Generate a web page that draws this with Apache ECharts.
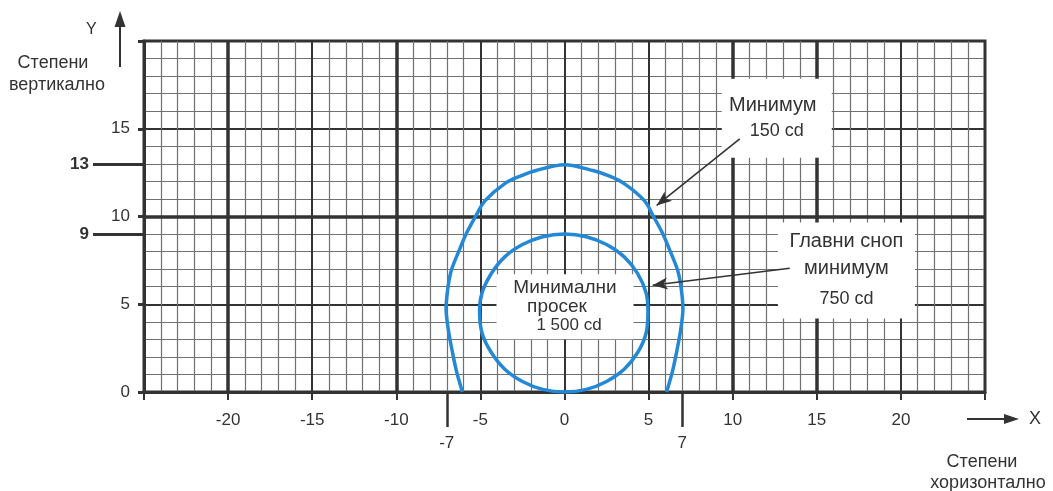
<!DOCTYPE html>
<html><head><meta charset="utf-8">
<script src="https://cdn.jsdelivr.net/npm/echarts@6/dist/echarts.min.js"></script>
<style>html,body{margin:0;padding:0;background:#fff}#c{width:1053px;height:491px}</style>
</head><body><div id="c"></div>
<script>
// ---- data ----
const xLabels = [-20, -15, -10, -5, 0, 5, 10, 15, 20];
const yLabels = [0, 5, 10, 15];
const xExtraLabels = [-7, 7];
const yExtraLabels = [13, 9];

// outer contour "Минимум 150 cd" (open curve, ends on y = 0)
const outerX = [-6.07, -6.4, -6.65, -6.9, -7.04, -6.95, -6.74, -6.25, -5.8, -5.26, -4.72, -3.57, -2.55, -1.69, 0, 1.69, 2.6, 3.57, 4.75, 5.26, 5.8, 6.25, 6.74, 6.95, 7.04, 6.9, 6.65, 6.4, 6.07];
const outerY = [0, 1.1, 2.2, 3.5, 4.7, 5.8, 6.9, 8.1, 9.1, 10.05, 10.9, 11.86, 12.33, 12.62, 12.95, 12.62, 12.33, 11.86, 10.9, 10.05, 9.1, 8.1, 6.9, 5.8, 4.7, 3.5, 2.2, 1.1, 0];

// inner contour "Минимални просек 1 500 cd" (closed curve)
const innerX = [0, 1.3, 2.5, 3.55, 4.35, 4.85, 4.96, 4.85, 4.35, 3.55, 2.5, 1.3, 0, -1.3, -2.5, -3.55, -4.35, -4.9, -5.05, -4.9, -4.35, -3.55, -2.5, -1.3, 0];
const innerY = [9.0, 8.85, 8.4, 7.7, 6.75, 5.65, 4.6, 3.35, 2.25, 1.3, 0.6, 0.15, 0, 0.15, 0.6, 1.3, 2.25, 3.35, 4.6, 5.65, 6.75, 7.7, 8.4, 8.85, 9.0];

// heavy grid lines
const heavyX = [-20, -10, 10, 15];
const heavyY = [10];

// annotation boxes: centre in data coords
const noteText = [['Минимум', '150 cd'], ['Главни сноп', 'минимум', '750 cd'], ['Минимални', 'просек', '1 500 cd']];
const noteX = [12.62, 16.76, 0.03];
const noteY = [15.6, 6.93, 4.86];
// arrows: from -> to
const arrowFromX = [10.42, 13.39];
const arrowFromY = [14.43, 7.05];
const arrowToX = [5.48, 5.24];
const arrowToY = [10.63, 6.08];

// ---- chart ----
const FONT = 'Liberation Sans, Arial, sans-serif';
const DARK = '#333';
const BLUE = '#2389d6';
const chart = echarts.init(document.getElementById('c'), null, {renderer: 'canvas'});

// smooth curve through the data points (Catmull-Rom), positioned by the axes via api.coord
function curveSeries(name, xs, ys, closed) {
  return {
    name: name, type: 'custom', coordinateSystem: 'cartesian2d', z: 5, silent: true,
    data: xs.map((x, i) => [x, ys[i]]),
    encode: {x: 0, y: 1},
    renderItem: function (params, api) {
      if (params.dataIndex !== 0) return;
      let pts = xs.map((x, i) => api.coord([x, ys[i]]));
      if (closed) pts = pts.slice(0, pts.length - 1);
      const n = pts.length;
      const get = (i) => {
        if (closed) return pts[(i + n) % n];
        return pts[Math.max(0, Math.min(n - 1, i))];
      };
      let d = 'M' + pts[0][0] + ' ' + pts[0][1];
      const segs = closed ? n : n - 1;
      for (let i = 0; i < segs; i++) {
        const p0 = get(i - 1), p1 = get(i), p2 = get(i + 1), p3 = get(i + 2);
        const c1x = p1[0] + (p2[0] - p0[0]) / 6, c1y = p1[1] + (p2[1] - p0[1]) / 6;
        const c2x = p2[0] - (p3[0] - p1[0]) / 6, c2y = p2[1] - (p3[1] - p1[1]) / 6;
        d += ' C' + c1x + ' ' + c1y + ' ' + c2x + ' ' + c2y + ' ' + p2[0] + ' ' + p2[1];
      }
      if (closed) d += ' Z';
      return {type: 'path', shape: {pathData: d}, style: {stroke: BLUE, fill: 'none', lineWidth: 3.5}};
    }
  };
}

const boxSizes = [[110, 79], [137, 96], [137, 65]];
const noteMarks = noteText.map((lines, i) => {
  let fmt, rich;
  if (i === 0) {
    fmt = '{a|' + lines[0] + '}\n{b|' + lines[1] + '}';
    rich = {a: {fontSize: 20, lineHeight: 26, color: DARK, fontFamily: FONT, padding: [0, 8, 0, 0]},
            b: {fontSize: 18, lineHeight: 26, color: DARK, fontFamily: FONT}};
  } else if (i === 1) {
    fmt = '{a|' + lines[0] + '}\n{a|' + lines[1] + '}\n{b|' + lines[2] + '}';
    rich = {a: {fontSize: 20, lineHeight: 27, color: DARK, fontFamily: FONT},
            b: {fontSize: 18, lineHeight: 31, color: DARK, fontFamily: FONT, padding: [4, 0, 0, 0]}};
  } else {
    fmt = '{a|' + lines[0] + '}\n{c|' + lines[1] + '}\n{b|' + lines[2] + '}';
    rich = {a: {fontSize: 19, lineHeight: 18.5, color: DARK, fontFamily: FONT},
            c: {fontSize: 19, lineHeight: 18.5, color: DARK, fontFamily: FONT, padding: [0, 16, 0, 0]},
            b: {fontSize: 17, lineHeight: 18.5, color: DARK, fontFamily: FONT, padding: [0, 0, 0, 8]}};
  }
  return {
    coord: [noteX[i], noteY[i]],
    symbol: 'rect',
    symbolSize: boxSizes[i],
    itemStyle: {color: '#fff'},
    label: {show: true, position: 'inside', formatter: fmt, rich: rich, align: 'center'}
  };
});

const arrowLines = arrowFromX.map((x, i) => [
  {coord: [x, arrowFromY[i]], symbol: 'none'},
  {coord: [arrowToX[i], arrowToY[i]], symbol: 'arrow', symbolSize: [9, 15]}
]);

const option = {
  animation: false,
  backgroundColor: '#fff',
  grid: {left: 144, right: 68, top: 41, bottom: 99, show: true, borderColor: DARK, borderWidth: 3, containLabel: false, outerBoundsMode: 'none'},
  xAxis: [{
    type: 'value', min: -25, max: 25, interval: 5, position: 'bottom',
    axisLine: {show: true, onZero: false, lineStyle: {color: DARK, width: 3}},
    axisTick: {show: true, length: 8, lineStyle: {color: DARK, width: 2}},
    axisLabel: {customValues: xLabels, margin: 20, color: DARK, fontSize: 17, fontFamily: FONT},
    splitLine: {show: true, lineStyle: {color: DARK, width: 2}},
    minorTick: {show: false, splitNumber: 5},
    minorSplitLine: {show: true, lineStyle: {color: '#707070', width: 1.2}}
  }, {
    type: 'value', min: -25, max: 25, position: 'bottom', gridIndex: 0,
    axisLine: {show: false, onZero: false},
    axisTick: {show: true, customValues: xExtraLabels, length: 35, lineStyle: {color: DARK, width: 2.5}},
    axisLabel: {show: true, customValues: xExtraLabels, margin: 43, color: DARK, fontSize: 17, fontFamily: FONT},
    splitLine: {show: false}
  }],
  yAxis: [{
    type: 'value', min: 0, max: 20, interval: 5, position: 'left',
    axisLine: {show: true, onZero: false, lineStyle: {color: DARK, width: 3}},
    axisTick: {show: true, length: 6, lineStyle: {color: DARK, width: 3}},
    axisLabel: {customValues: yLabels, margin: 14, color: DARK, fontSize: 17, fontFamily: FONT},
    splitLine: {show: true, lineStyle: {color: DARK, width: 2}},
    minorTick: {show: false, splitNumber: 5},
    minorSplitLine: {show: true, lineStyle: {color: '#707070', width: 1.2}}
  }, {
    type: 'value', min: 0, max: 20, position: 'left', gridIndex: 0,
    axisLine: {show: false, onZero: false},
    axisTick: {show: true, customValues: yExtraLabels, length: 51, lineStyle: {color: DARK, width: 3}},
    axisLabel: {show: true, customValues: yExtraLabels, margin: 55, color: DARK, fontSize: 17, fontWeight: 'bold', fontFamily: FONT},
    splitLine: {show: false}
  }],
  series: [{
    type: 'line', data: [], z: 1, silent: true,
    markLine: {
      silent: true, symbol: ['none', 'none'], animation: false, z: 2,
      label: {show: false},
      lineStyle: {color: DARK, width: 3.5, type: 'solid'},
      data: heavyX.map(v => ({xAxis: v})).concat(heavyY.map(v => ({yAxis: v})))
    }
  }, {
    type: 'line', data: [], z: 3, silent: true,
    markPoint: {silent: true, animation: false, z: 4, data: noteMarks}
  },
  curveSeries('outer', outerX, outerY, false),
  curveSeries('inner', innerX, innerY, true),
  {
    type: 'line', data: [], z: 6, silent: true,
    markLine: {
      silent: true, animation: false, z: 8, label: {show: false},
      lineStyle: {color: DARK, width: 1.6, type: 'solid'},
      data: arrowLines
    }
  }],
  graphic: [
    {type: 'text', left: 86, top: 22, style: {text: 'Y', fontSize: 16, fill: DARK, fontFamily: FONT}},
    {type: 'line', shape: {x1: 120, y1: 67, x2: 120, y2: 24}, style: {stroke: DARK, lineWidth: 2}},
    {type: 'polygon', shape: {points: [[114.5, 27], [125.5, 27], [120, 11]]}, style: {fill: DARK}},
    {type: 'text', x: 53, y: 63, style: {text: 'Степени', fontSize: 18, fill: DARK, fontFamily: FONT, align: 'center', verticalAlign: 'middle'}},
    {type: 'text', x: 57, y: 85, style: {text: 'вертикално', fontSize: 18, fill: DARK, fontFamily: FONT, align: 'center', verticalAlign: 'middle'}},
    {type: 'line', shape: {x1: 967, y1: 419, x2: 1006, y2: 419}, style: {stroke: DARK, lineWidth: 2}},
    {type: 'polygon', shape: {points: [[1004, 414], [1004, 424], [1019, 419]]}, style: {fill: DARK}},
    {type: 'text', x: 1035, y: 419, style: {text: 'X', fontSize: 18, fill: DARK, fontFamily: FONT, align: 'center', verticalAlign: 'middle'}},
    {type: 'text', x: 982, y: 462, style: {text: 'Степени', fontSize: 18, fill: DARK, fontFamily: FONT, align: 'center', verticalAlign: 'middle'}},
    {type: 'text', x: 988, y: 483, style: {text: 'хоризонтално', fontSize: 18, fill: DARK, fontFamily: FONT, align: 'center', verticalAlign: 'middle'}}
  ]
};
chart.setOption(option);
</script></body></html>
